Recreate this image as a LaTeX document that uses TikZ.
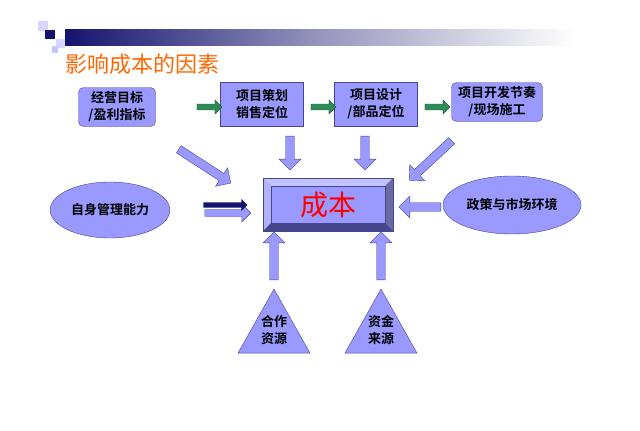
\documentclass[tikz,border=0pt]{standalone}
\usepackage{fontspec}
\setmainfont{Liberation Sans}
\newfontfamily\cjk{Noto Sans CJK SC}[BoldFont={Noto Sans CJK SC Bold}]
\usetikzlibrary{shapes.geometric, shapes.arrows, arrows.meta, positioning}
\definecolor{lav}{RGB}{153, 153, 255}
\definecolor{edge}{RGB}{70, 70, 140}
\definecolor{navy}{RGB}{20, 20, 110}
\definecolor{go}{RGB}{46, 139, 87}
\definecolor{title}{RGB}{255, 102, 0}

\begin{document}
\begin{tikzpicture}[x=1pt, y=-1pt,
    box/.style={rectangle, draw=edge, fill=lav, minimum width=83pt, minimum height=44pt,
                align=center, font=\cjk\bfseries\fontsize{13}{17}\selectfont},
    rbox/.style={box, rounded corners=5pt},
    blob/.style={ellipse, draw=edge, fill=lav, align=center, font=\cjk\bfseries\fontsize{13}{17}\selectfont},
    tri/.style={isosceles triangle, shape border rotate=90, isosceles triangle stretches,
                draw=edge, fill=lav, minimum width=72pt, minimum height=64pt, inner sep=0pt},
    barrow/.style={single arrow, draw=edge, fill=lav, minimum width=22pt,
                   single arrow head extend=5pt, inner sep=3pt},
    garrow/.style={single arrow, draw=go!70!black, fill=go, minimum width=14pt, minimum height=25pt,
                   single arrow head extend=3pt, inner sep=2pt}]
    \useasboundingbox (0,0) rectangle (640,431);

    % Header
    \shade[left color=navy, right color=white, middle color=navy!45] (65,29) rectangle (575,45);
    \fill[lav!40] (38,21) rectangle (48,31);
    \fill[navy] (45,30) rectangle (55,39);
    \fill[lav!40] (56,39) rectangle (65,48);
    \fill[lav!55] (52,46) rectangle (58,53);
    \node[anchor=west, text=title, font=\cjk\fontsize{22}{26}\selectfont] (head) at (62,64) {影响成本的因素};

    % Top row
    \node[rbox, minimum width=77pt, minimum height=39pt] (goal) at (117,107) {经营目标\\/盈利指标};
    \node[box] (plan) at (262,104) {项目策划\\销售定位};
    \node[box] (design) at (376,104) {项目设计\\/部品定位};
    \node[rbox, minimum width=91pt, minimum height=39pt] (pace) at (497,102) {项目开发节奏\\/现场施工};

    \node[garrow] (g1) at (208,107) {};
    \node[garrow] (g2) at (322,107) {};
    \node[garrow] (g3) at (436,107) {};

    % Cost
    \node[rectangle, fill=lav, draw=edge, minimum width=130pt, minimum height=53pt] (cost) at (328,204.5) {};
    \fill[lav!60!white] (263,178) -- (393,178) -- (385,186) -- (271,186) -- cycle;
    \fill[lav!75!white] (263,178) -- (271,186) -- (271,223) -- (263,231) -- cycle;
    \fill[edge!80] (393,178) -- (393,231) -- (385,223) -- (385,186) -- cycle;
    \fill[edge] (263,231) -- (393,231) -- (385,223) -- (271,223) -- cycle;
    \draw[edge] (263,178) rectangle (393,231) (271,186) rectangle (385,223);
    \node[text=red, font=\cjk\fontsize{28}{32}\selectfont] (costtxt) at (cost) {成本};

    % Sides
    \node[blob, minimum width=92pt, minimum height=56pt] (self) at (110,210) {自身管理能力};
    \node[blob, minimum width=110pt, minimum height=58pt] (policy) at (512,205) {政策与市场环境};
    \node[tri] (coop) at (274,332) {};
    \node[tri] (fund) at (381,332) {};
    \node[font=\cjk\bfseries\fontsize{13}{17}\selectfont, align=center] (cooptxt) at (274,330) {合作\\资源};
    \node[font=\cjk\bfseries\fontsize{13}{17}\selectfont, align=center] (fundtxt) at (381,330) {资金\\来源};

    % Block arrows
    \node[barrow, rotate=-90, minimum height=34pt] (a1) at (290,151) {};
    \node[barrow, rotate=-90, minimum height=34pt] (a2) at (365,151) {};
    \node[barrow, rotate=-33, minimum height=62pt] (a3) at (203,165) {};
    \node[barrow, rotate=-137, minimum height=58pt] (a4) at (432,159) {};
    \node[barrow, rotate=180, minimum height=42pt] (a5) at (422,207) {};
    \node[barrow, rotate=90, minimum height=48pt] (a6) at (274,258) {};
    \node[barrow, rotate=90, minimum height=48pt] (a7) at (381,258) {};
    \node[barrow, minimum height=46pt, minimum width=18pt, inner sep=3pt] (a8) at (226,213) {};
    \node[single arrow, fill=navy, minimum height=44pt, minimum width=12pt,
          single arrow head extend=3pt, inner sep=2pt] (a9) at (224,205) {};
\end{tikzpicture}
\end{document}
